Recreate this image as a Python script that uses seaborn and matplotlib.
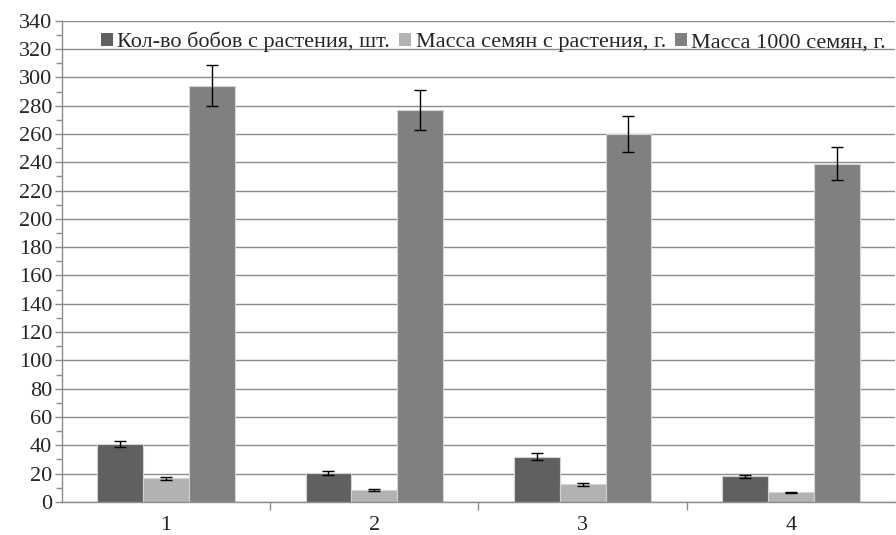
import matplotlib
matplotlib.use('Agg')
import matplotlib.pyplot as plt
import seaborn as sns
import pandas as pd
import numpy as np
from matplotlib.patches import Patch
from matplotlib.ticker import MultipleLocator, FixedLocator

groups = ['1', '2', '3', '4']
series = ['Кол-во бобов с растения, шт.', 'Масса семян с растения, г.', 'Масса 1000 семян, г.']
beans = [41, 20.5, 32, 18]
seed_mass = [16.5, 8.3, 12.5, 6.7]
mass_1000 = [294, 277, 260, 239]
beans_err = [2, 1.2, 2.5, 1.2]
seed_err = [1, 0.8, 1, 0.5]
mass_err = [14.5, 14, 13, 11.5]
colors = ['#606060', '#b2b2b2', '#808080']

df = pd.DataFrame({
    'group': groups * 3,
    'series': [series[0]] * 4 + [series[1]] * 4 + [series[2]] * 4,
    'value': beans + seed_mass + mass_1000,
    'err': beans_err + seed_err + mass_err,
})

sns.set_style('white')
plt.rcParams['font.family'] = ['Liberation Serif', 'DejaVu Serif']

fig = plt.figure(figsize=(8.96, 5.35), dpi=100)
ax = fig.add_axes([0.069, 0.062, 0.930, 0.899])

sns.barplot(data=df, x='group', y='value', hue='series', palette=colors,
            width=0.66, errorbar=None, ax=ax, legend=False, saturation=1,
            edgecolor='#d4d4d4', linewidth=0.8)

# error bars from bar positions
for i, s in enumerate(series):
    cont = ax.containers[i]
    errs = df[df['series'] == s]['err'].values
    vals = df[df['series'] == s]['value'].values
    xs = [p.get_x() + p.get_width() / 2 for p in cont.patches]
    ax.errorbar(xs, vals, yerr=errs, fmt='none', ecolor='black',
                elinewidth=1, capsize=4, capthick=1, zorder=5)

ax.set_ylim(0, 340)
ax.set_xlim(-0.5, 3.5)
ax.yaxis.set_major_locator(MultipleLocator(20))
ax.yaxis.set_minor_locator(MultipleLocator(10))
ax.grid(axis='y', which='major', color='#8c8c8c', linewidth=1)
ax.set_axisbelow(True)
ax.set_xlabel('')
ax.set_ylabel('')

for sp in ['top', 'right']:
    ax.spines[sp].set_visible(False)
for sp in ['left', 'bottom']:
    ax.spines[sp].set_color('#8c8c8c')
    ax.spines[sp].set_linewidth(1)

ax.tick_params(axis='y', which='major', length=5, color='#8c8c8c', width=1,
               labelsize=16, pad=2, left=True)
ax.tick_params(axis='y', which='minor', length=4, color='#8c8c8c', width=1, left=True)
ax.xaxis.set_minor_locator(FixedLocator([0.5, 1.5, 2.5]))
ax.tick_params(axis='x', which='major', length=0, labelsize=16, pad=10)
ax.tick_params(axis='x', which='minor', length=6, color='#8c8c8c', width=1, bottom=True)

handles = [Patch(facecolor=c, edgecolor='none') for c in colors]
ax.legend(handles, series, loc='upper right', bbox_to_anchor=(1.008, 1.01), ncol=3,
          frameon=False, fontsize=16, handlelength=0.55, handleheight=0.55,
          handletextpad=0.2, columnspacing=0.4, borderaxespad=0.3)

fig.savefig('out.png', dpi=100)
